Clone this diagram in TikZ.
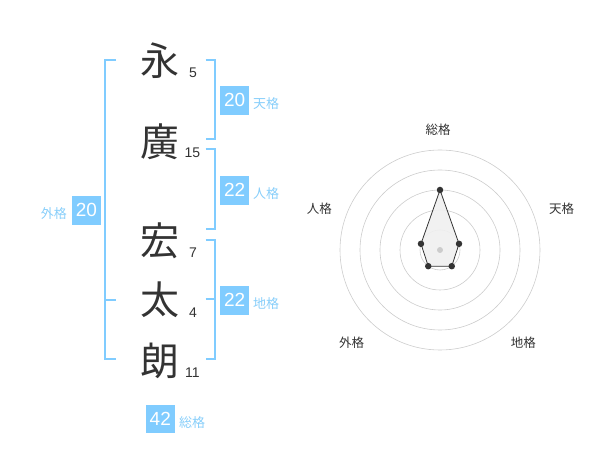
\documentclass[tikz,border=0pt]{standalone}
\usepackage{fontspec}
\usetikzlibrary{calc}
\setmainfont{Liberation Sans}
\newfontfamily\jpfont{Noto Sans CJK JP}
\definecolor{skyb}{RGB}{128,204,255}
\definecolor{skyt}{RGB}{135,206,250}
\definecolor{ink}{RGB}{51,51,51}
\definecolor{ringc}{RGB}{204,204,204}
\tikzset{
  kanji/.style={font=\jpfont\fontsize{39}{39}\selectfont, text=ink, inner sep=0pt},
  strokes/.style={font=\fontsize{14}{14}\selectfont, text=ink, inner sep=0pt},
  numbox/.style={fill=skyb, text=white, minimum width=28.5pt, minimum height=28.5pt, inner sep=0pt, font=\fontsize{19}{19}\selectfont},
  kaku/.style={font=\jpfont\fontsize{13}{13}\selectfont, text=skyt, inner sep=0pt},
  brk/.style={draw=skyb, line width=2pt},
  ring/.style={draw=ringc, line width=0.6pt},
  axlab/.style={font=\jpfont\fontsize{12.5}{12.5}\selectfont, text=ink, inner sep=0pt},
  dot/.style={circle, fill=ink, inner sep=0pt, minimum size=6.5pt},
}
\begin{document}
\begin{tikzpicture}[x=1pt,y=-1pt]
\useasboundingbox (0,0) rectangle (600,470);
% kanji
\node[kanji] (k1) at (160,61) {永};
\node[kanji] (k2) at (160,142) {廣};
\node[kanji] (k3) at (160,241) {宏};
\node[kanji] (k4) at (160,300) {太};
\node[kanji] (k5) at (160,361) {朗};
% stroke counts
\node[strokes] (n1) at (193,72.7) {5};
\node[strokes] (n2) at (192.5,152.8) {15};
\node[strokes] (n3) at (193,252.3) {7};
\node[strokes] (n4) at (193,313) {4};
\node[strokes] (n5) at (192.5,372.5) {11};
% brackets
\coordinate (L1) at (116,60); \coordinate (L2) at (105,60);
\coordinate (L3) at (105,359.5); \coordinate (L4) at (116,359.5);
\coordinate (Lm1) at (105,299.7); \coordinate (Lm2) at (116,299.7);
\draw[brk] (L1) -- (L2) -- (L3) -- (L4);
\draw[brk] (Lm1) -- (Lm2);
\coordinate (A1) at (205.5,60); \coordinate (A2) at (214.5,60);
\coordinate (A3) at (214.5,139.5); \coordinate (A4) at (205.5,139.5);
\draw[brk] (A1) -- (A2) -- (A3) -- (A4);
\coordinate (B1) at (205.5,149.5); \coordinate (B2) at (214.5,149.5);
\coordinate (B3) at (214.5,229.5); \coordinate (B4) at (205.5,229.5);
\draw[brk] (B1) -- (B2) -- (B3) -- (B4);
\coordinate (C1) at (205.5,240); \coordinate (C2) at (214.5,240);
\coordinate (C3) at (214.5,359.5); \coordinate (C4) at (205.5,359.5);
\coordinate (Cm1) at (205.5,299.5); \coordinate (Cm2) at (214.5,299.5);
\draw[brk] (C1) -- (C2) -- (C3) -- (C4);
\draw[brk] (Cm1) -- (Cm2);
% boxes and labels
\node[numbox] (b1) at (234.7,100.3) {20};
\node[kaku, anchor=west] (t1) at (253,103.5) {天格};
\node[numbox] (b2) at (234.7,190.3) {22};
\node[kaku, anchor=west] (t2) at (253,193.5) {人格};
\node[numbox] (b3) at (234.7,300.3) {22};
\node[kaku, anchor=west] (t3) at (253,303.5) {地格};
\node[numbox] (b4) at (86.5,210.3) {20};
\node[kaku, anchor=east] (t4) at (67,213.5) {外格};
\node[numbox] (b5) at (160.3,419.2) {42};
\node[kaku, anchor=west] (t5) at (179,422.5) {総格};
% radar
\coordinate (O) at (440,250);
\foreach \r in {20,40,60,80,100} \draw[ring] (O) circle[radius=\r];
\coordinate (p1) at ($(O)+(0,-60)$);
\coordinate (p2) at ($(O)+({20*cos(18)},{-20*sin(18)})$);
\coordinate (p3) at ($(O)+({20*cos(54)},{20*sin(54)})$);
\coordinate (p4) at ($(O)+({-20*cos(54)},{20*sin(54)})$);
\coordinate (p5) at ($(O)+({-20*cos(18)},{-20*sin(18)})$);
\filldraw[fill=black!6, fill opacity=0.9, draw=ink, line width=0.8pt] (p1) -- (p2) -- (p3) -- (p4) -- (p5) -- cycle;
\node[circle, fill=ringc, inner sep=0pt, minimum size=6pt] (c0) at (O) {};
\foreach \i in {1,...,5} \node[dot] (d\i) at (p\i) {};
\node[axlab] (a1) at (438,130) {総格};
\node[axlab] (a2) at (561.7,208.3) {天格};
\node[axlab] (a3) at (523.3,342.3) {地格};
\node[axlab] (a4) at (351.7,342.3) {外格};
\node[axlab] (a5) at (319.3,208.3) {人格};
\end{tikzpicture}
\end{document}
